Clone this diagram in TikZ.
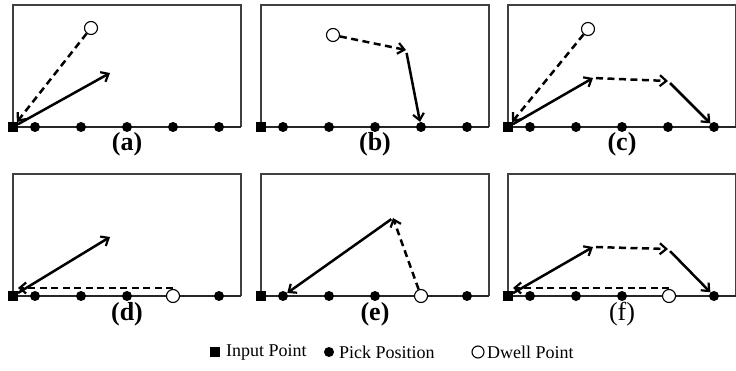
\documentclass[tikz,border=0pt]{standalone}
\usepackage{fontspec}
\setmainfont{Liberation Serif}
\usetikzlibrary{arrows.meta}
\begin{document}
\begin{tikzpicture}[x=1pt,y=-1pt,
  frame/.style={draw=black!75, line width=1.5pt},
  base/.style={draw=black!85, line width=1.6pt},
  pick/.style={circle, fill=black, inner sep=0pt, minimum size=10pt},
  inp/.style={rectangle, fill=black, inner sep=0pt, minimum size=9.5pt},
  dwell/.style={circle, draw=black, fill=white, line width=1.1pt, inner sep=0pt, minimum size=13pt},
  mv/.style={line width=2.5pt, -{Straight Barb[length=6.5pt,width=11pt,line width=2.2pt]}},
  dmv/.style={mv, dash pattern=on 7pt off 4.5pt},
  lab/.style={font=\bfseries\fontsize{26}{28}\selectfont, inner sep=0pt},
  leg/.style={font=\fontsize{18}{20}\selectfont, anchor=west, inner sep=0pt}
]
\useasboundingbox (0,0) rectangle (736,371);
% frames and base lines
\foreach \p/\x/\y in {a/13/127, b/261/127, c/508/127, d/13/296, e/261/296, f/508/296}{
  \draw[frame] (\x,\y) -- (\x,\y-122) -- (\x+228,\y-122) -- (\x+228,\y);
  \draw[base] (\x,\y) -- (\x+228,\y);
}
% input points and pick positions
\foreach \p/\x/\y in {a/13/127, b/261/127, c/508/127, d/13/296, e/261/296, f/508/296}{
  \node[inp] (\p0) at (\x,\y) {};
  \node[pick] (\p1) at (\x+22,\y) {};
  \node[pick] (\p2) at (\x+68,\y) {};
  \node[pick] (\p3) at (\x+114,\y) {};
  \node[pick] (\p5) at (\x+206,\y) {};
}
\foreach \p/\x/\y in {a/13/127, b/261/127, c/508/127}{
  \node[pick] (\p4) at (\x+160,\y) {};
}
% dwell points
\node[dwell] (aw) at (91,28) {};
\node[dwell] (bw) at (333,35) {};
\node[dwell] (cw) at (588,29) {};
\node[dwell] (dw) at (173,296) {};
\node[dwell] (ew) at (421,296) {};
\node[dwell] (fw) at (669,296) {};
% (a)
\coordinate (a-s) at (110,73);
\draw[mv] (a0) -- (a-s);
\draw[dmv] (aw) -- (a0);
% (b)
\coordinate (b-k) at (406,50);
\draw[dmv] (bw) -- (b-k);
\draw[mv, shorten <=3pt] (b-k) -- (b4);
% (c)
\coordinate (c-k1) at (593,78);
\coordinate (c-k2) at (668,81);
\draw[mv] (c0) -- (c-k1);
\draw[dmv, shorten <=3pt] (c-k1) -- (c-k2);
\draw[mv, shorten <=3pt] (c-k2) -- (c5);
\draw[dmv] (cw) -- (c0);
% (d)
\coordinate (d-s) at (110,237);
\draw[mv] (d0) -- (d-s);
\draw[dmv] ([yshift=8pt]dw.center) -- ([yshift=8pt]d0.east);
% (e)
\coordinate (e-k) at (393,218);
\draw[dmv] (ew) -- (e-k);
\draw[mv, shorten <=2pt] (e-k) -- (e1);
% (f)
\coordinate (f-k1) at (593,247);
\coordinate (f-k2) at (668,249);
\draw[mv] (f0) -- (f-k1);
\draw[dmv, shorten <=3pt] (f-k1) -- (f-k2);
\draw[mv, shorten <=3pt] (f-k2) -- (f5);
\draw[dmv] ([yshift=8pt]fw.center) -- ([yshift=8pt]f0.east);
% labels
\node[lab] (la) at (127,144) {(a)};
\node[lab] (lb) at (375,144) {(b)};
\node[lab] (lc) at (622,144) {(c)};
\node[lab] (ld) at (127,314) {(d)};
\node[lab] (le) at (375,314) {(e)};
\node[lab, font=\fontsize{26}{28}\selectfont] (lf) at (622,314) {(f)};
% legend
\node[inp] (gi) at (215,352) {};
\node[leg] (ti) at (226,352) {Input Point};
\node[pick, minimum size=10pt] (gp) at (329,352) {};
\node[leg] (tp) at (339,352) {Pick Position};
\node[dwell, minimum size=12pt] (gw) at (478,352) {};
\node[leg] (tw) at (487,352) {Dwell Point};
\end{tikzpicture}
\end{document}
